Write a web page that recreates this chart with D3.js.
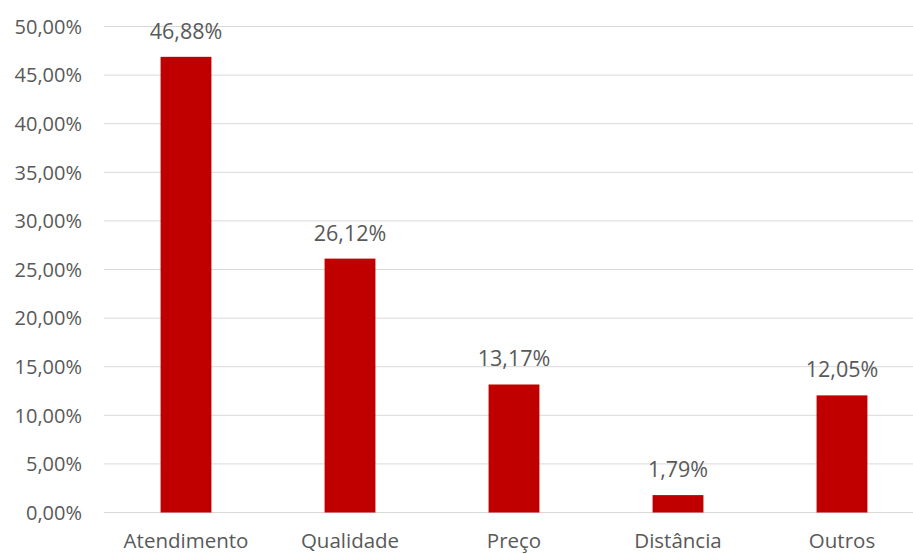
<!DOCTYPE html>
<html>
<head>
<meta charset="utf-8">
<script src="https://cdn.jsdelivr.net/npm/d3@7"></script>
<style>
  html, body { margin: 0; padding: 0; background: #fff; overflow: hidden; }
  svg { display: block; }
  text { font-family: "Open Sans", "Noto Sans", sans-serif; fill: #595959; }
</style>
</head>
<body>
<svg id="chart" width="913" height="554"></svg>
<script>
// Motivos de escolha (percentual)
const categories = ["Atendimento", "Qualidade", "Preço", "Distância", "Outros"];
const values = [46.88, 26.12, 13.17, 1.79, 12.05];
const yTicks = [0, 5, 10, 15, 20, 25, 30, 35, 40, 45, 50];

const svg = d3.select("#chart");
const plotLeft = 104, plotRight = 924, plotTop = 26.5, plotBottom = 512.5;

const x = d3.scaleBand().domain(categories).range([plotLeft, plotRight]).padding(0);
const y = d3.scaleLinear().domain([0, 50]).range([plotBottom, plotTop]);
const barW = x.bandwidth() * 0.31;

const fmt = v => v.toFixed(2).replace(".", ",") + "%";

// Linhas de grade horizontais
svg.append("g")
  .selectAll("line")
  .data(yTicks)
  .join("line")
  .attr("x1", plotLeft).attr("x2", 913)
  .attr("y1", d => y(d)).attr("y2", d => y(d))
  .attr("stroke", "#d9d9d9").attr("stroke-width", 1);

// Eixo Y
const yAxis = d3.axisLeft(y).tickValues(yTicks).tickFormat(fmt).tickSize(0).tickPadding(0);
const gy = svg.append("g").attr("transform", `translate(82,0)`).call(yAxis);
gy.select(".domain").remove();
gy.selectAll("text").style("font-size", "20px").attr("fill", "#595959").attr("dy", "0.34em");

// Barras
svg.append("g")
  .selectAll("rect")
  .data(values)
  .join("rect")
  .attr("x", (d, i) => x(categories[i]) + x.bandwidth() / 2 - barW / 2)
  .attr("width", barW)
  .attr("y", d => y(d))
  .attr("height", d => y(0) - y(d))
  .attr("fill", "#c00000");

// Rótulos de valor
svg.append("g")
  .selectAll("text")
  .data(values)
  .join("text")
  .attr("x", (d, i) => x(categories[i]) + x.bandwidth() / 2)
  .attr("y", d => y(d) - 18)
  .attr("text-anchor", "middle")
  .style("font-size", "21.5px")
  .text(d => fmt(d));

// Eixo X
const xAxis = d3.axisBottom(x).tickSize(0).tickPadding(0);
const gx = svg.append("g").attr("transform", `translate(0,${plotBottom})`).call(xAxis);
gx.select(".domain").remove();
gx.selectAll("text").style("font-size", "20.5px").attr("fill", "#595959").attr("y", 35).attr("dy", 0);
</script>
</body>
</html>
